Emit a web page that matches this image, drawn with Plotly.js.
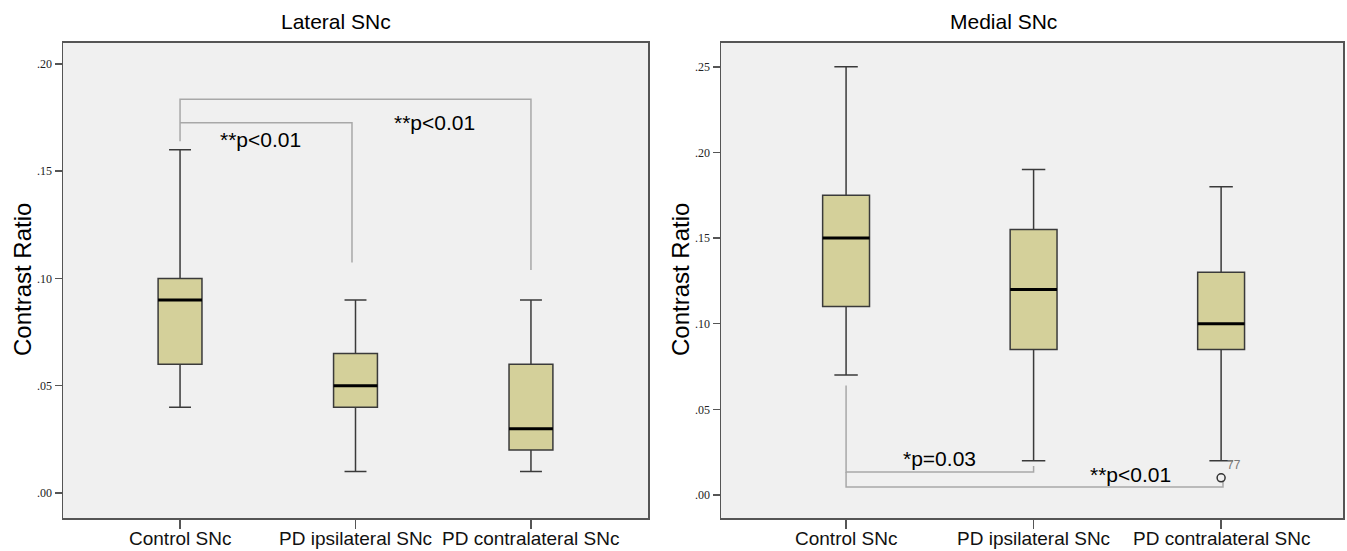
<!DOCTYPE html>
<html>
<head>
<meta charset="utf-8">
<script src="https://cdn.plot.ly/plotly-3.0.1.min.js"></script>
<style>html,body{margin:0;padding:0;background:#fff;}#chart{width:1347px;height:551px;}</style>
</head>
<body>
<div id="chart"></div>
<script>
// ---- data ----
const categories = ['Control SNc', 'PD ipsilateral SNc', 'PD contralateral SNc'];
const catPos = [0, 1, 2];

// Lateral SNc
const latMin = [0.04, 0.01, 0.01];
const latQ1 = [0.06, 0.04, 0.02];
const latMedian = [0.09, 0.05, 0.03];
const latQ3 = [0.10, 0.065, 0.06];
const latMax = [0.16, 0.09, 0.09];

// Medial SNc
const medMin = [0.07, 0.02, 0.02];
const medQ1 = [0.11, 0.085, 0.085];
const medMedian = [0.15, 0.12, 0.10];
const medQ3 = [0.175, 0.155, 0.13];
const medMax = [0.25, 0.19, 0.18];
const medOutlierX = [2];
const medOutlierY = [0.01];
const medOutlierLabel = ['77'];

const latTickVals = [0, 0.05, 0.10, 0.15, 0.20];
const latTickText = ['.00', '.05', '.10', '.15', '.20'];
const medTickVals = [0, 0.05, 0.10, 0.15, 0.20, 0.25];
const medTickText = ['.00', '.05', '.10', '.15', '.20', '.25'];

// significance brackets (category position, value)
const latBracketOuterX = [0, 0, 2, 2];
const latBracketOuterY = [0.164, 0.1835, 0.1835, 0.104];
const latBracketInnerX = [0, 0.98, 0.98];
const latBracketInnerY = [0.1726, 0.1726, 0.1075];
const medBracket1X = [0, 0, 1, 1];
const medBracket1Y = [0.064, 0.0135, 0.0135, 0.017];
const medBracket2X = [0, 0, 2.01, 2.01];
const medBracket2Y = [0.0135, 0.0047, 0.0047, 0.0085];

const latLabels = [{x: 0.456, y: 0.1646, text: '**p<0.01'}, {x: 1.453, y: 0.1725, text: '**p<0.01'}];
const medLabels = [{x: 0.499, y: 0.0214, text: '*p=0.03'}, {x: 1.515, y: 0.0117, text: '**p<0.01'}];

// ---- styles ----
const BOX_FILL = '#d4d09a';
const BOX_LINE = '#3a3a3a';
const BRACKET = '#a8a8a8';
const BOXW = 0.25;
const SANS = 'Liberation Sans, Arial, sans-serif';

function boxTrace(q1, med, q3, lo, hi, xa, ya) {
  return {
    type: 'box', x: catPos, q1: q1, median: med, q3: q3,
    lowerfence: lo, upperfence: hi, width: BOXW, whiskerwidth: 0.5,
    fillcolor: BOX_FILL, line: {color: BOX_LINE, width: 1.5},
    boxpoints: false, hoverinfo: 'skip', showlegend: false,
    xaxis: xa, yaxis: ya
  };
}
function medianTrace(med, xa, ya) {
  const xs = [], ys = [];
  catPos.forEach((p, i) => { xs.push(p - BOXW / 2, p + BOXW / 2, null); ys.push(med[i], med[i], null); });
  return {type: 'scatter', mode: 'lines', x: xs, y: ys, line: {color: '#000', width: 3},
    hoverinfo: 'skip', showlegend: false, xaxis: xa, yaxis: ya};
}
function bracket(xs, ys, xa, ya) {
  return {type: 'scatter', mode: 'lines', x: xs, y: ys, line: {color: BRACKET, width: 1.5},
    hoverinfo: 'skip', showlegend: false, xaxis: xa, yaxis: ya};
}

const traces = [
  bracket(latBracketOuterX, latBracketOuterY, 'x', 'y'),
  bracket(latBracketInnerX, latBracketInnerY, 'x', 'y'),
  boxTrace(latQ1, latMedian, latQ3, latMin, latMax, 'x', 'y'),
  medianTrace(latMedian, 'x', 'y'),
  bracket(medBracket1X, medBracket1Y, 'x2', 'y2'),
  bracket(medBracket2X, medBracket2Y, 'x2', 'y2'),
  boxTrace(medQ1, medMedian, medQ3, medMin, medMax, 'x2', 'y2'),
  medianTrace(medMedian, 'x2', 'y2'),
  {type: 'scatter', mode: 'markers+text', x: medOutlierX, y: medOutlierY, text: medOutlierLabel,
   textposition: 'top right', textfont: {family: SANS, size: 12, color: '#777'},
   marker: {symbol: 'circle-open', size: 8, color: '#333', line: {width: 1.5}},
   hoverinfo: 'skip', showlegend: false, xaxis: 'x2', yaxis: 'y2'}
];

const yDom = [1 - 518 / 551, 1 - 42.5 / 551];
function xAxis(dom, range) {
  return {domain: dom, range: range, tickmode: 'array', tickvals: catPos, ticktext: categories,
    showticklabels: false,
    ticks: 'outside', ticklen: 9, tickwidth: 1.5, tickcolor: '#555',
    showline: true, mirror: true, linecolor: '#555', linewidth: 1.5,
    showgrid: false, zeroline: false, fixedrange: true};
}
function yAxis(range, vals, texts, anchor) {
  return {domain: yDom, range: range, tickmode: 'array', tickvals: vals, ticktext: texts, anchor: anchor,
    ticks: 'outside', ticklen: 7, tickwidth: 1.5, tickcolor: '#555',
    showline: true, mirror: true, linecolor: '#555', linewidth: 1.5,
    showgrid: false, zeroline: false, fixedrange: true,
    tickfont: {family: 'Liberation Serif, Times New Roman, serif', size: 12, color: '#222'}};
}

const annotations = [];
const cAnn = {showarrow: false, xanchor: 'center', yanchor: 'middle'};
latLabels.forEach(l => annotations.push(Object.assign({xref: 'x', yref: 'y', x: l.x, y: l.y, text: l.text,
  font: {family: SANS, size: 21, color: '#000'}}, cAnn)));
medLabels.forEach(l => annotations.push(Object.assign({xref: 'x2', yref: 'y2', x: l.x, y: l.y, text: l.text,
  font: {family: SANS, size: 21, color: '#000'}}, cAnn)));
['x', 'x2'].forEach(xr => categories.forEach((c, i) => annotations.push(Object.assign({
  xref: xr, yref: 'paper', x: catPos[i], y: 1 - 538 / 551, text: c,
  font: {family: SANS, size: 19, color: '#111'}}, cAnn))));
annotations.push(Object.assign({xref: 'paper', yref: 'paper', x: 336 / 1347, y: 1 - 22 / 551, text: 'Lateral SNc',
  font: {family: SANS, size: 21, color: '#000'}}, cAnn));
annotations.push(Object.assign({xref: 'paper', yref: 'paper', x: 1003 / 1347, y: 1 - 22 / 551, text: 'Medial SNc',
  font: {family: SANS, size: 21, color: '#000'}}, cAnn));
annotations.push(Object.assign({xref: 'paper', yref: 'paper', x: 22 / 1347, y: 1 - 280 / 551, text: 'Contrast Ratio', textangle: -90,
  font: {family: SANS, size: 24, color: '#000'}}, cAnn));
annotations.push(Object.assign({xref: 'paper', yref: 'paper', x: 680 / 1347, y: 1 - 280 / 551, text: 'Contrast Ratio', textangle: -90,
  font: {family: SANS, size: 24, color: '#000'}}, cAnn));

const layout = {
  width: 1347, height: 551,
  margin: {l: 0, r: 0, t: 0, b: 0},
  paper_bgcolor: '#ffffff', plot_bgcolor: '#f0f0f0',
  showlegend: false,
  xaxis: xAxis([63 / 1347, 648 / 1347], [-0.667, 2.667]),
  yaxis: yAxis([-0.01166, 0.21], latTickVals, latTickText, 'x'),
  xaxis2: xAxis([721 / 1347, 1343 / 1347], [-0.667, 2.65]),
  yaxis2: yAxis([-0.01343, 0.2642], medTickVals, medTickText, 'x2'),
  annotations: annotations
};
layout.xaxis.anchor = 'y';
layout.xaxis2.anchor = 'y2';

Plotly.newPlot('chart', traces, layout, {displayModeBar: false, staticPlot: true});
</script>
</body>
</html>
